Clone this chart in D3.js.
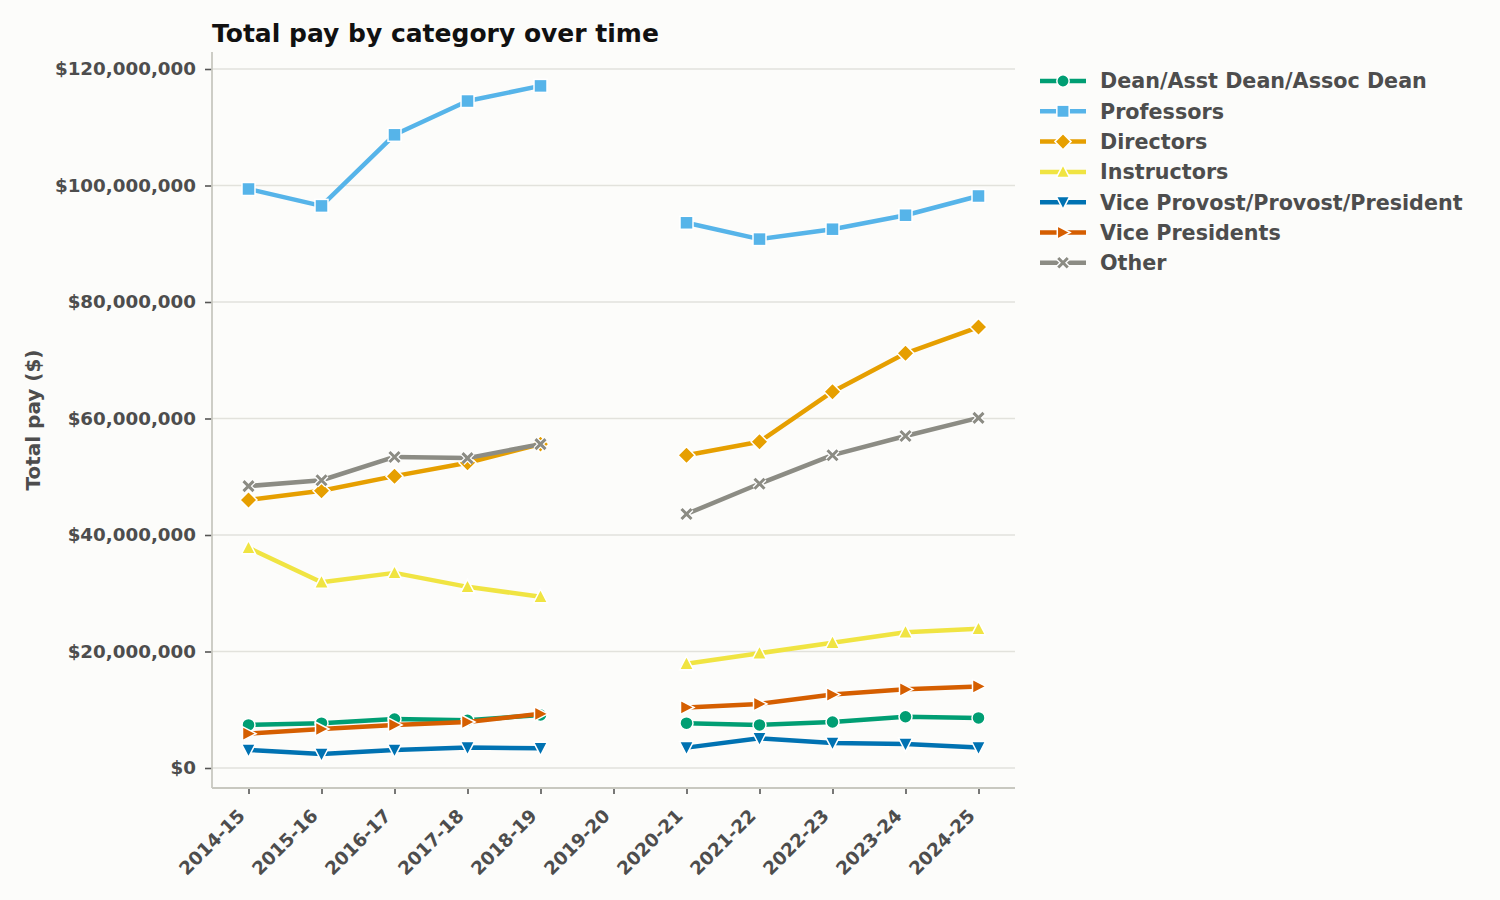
<!DOCTYPE html>
<html><head><meta charset="utf-8">
<script src="https://cdn.jsdelivr.net/npm/d3@7"></script>
<style>
html,body{margin:0;padding:0;background:#fcfcfa;}
svg{font-family:"DejaVu Sans",sans-serif;}
</style></head><body>
<svg id="c" width="1500" height="900"></svg>
<script>
const years = ["2014-15","2015-16","2016-17","2017-18","2018-19","2019-20","2020-21","2021-22","2022-23","2023-24","2024-25"];
const seriesNames = ["Dean/Asst Dean/Assoc Dean","Professors","Directors","Instructors","Vice Provost/Provost/President","Vice Presidents","Other"];
const dean = [7.4,7.7,8.4,8.2,9.1,null,7.7,7.4,7.9,8.8,8.6];
const professors = [99.4,96.5,108.7,114.5,117.1,null,93.6,90.8,92.5,94.9,98.2];
const directors = [46.0,47.6,50.1,52.4,55.6,null,53.7,56.0,64.6,71.2,75.7];
const instructors = [37.8,31.9,33.5,31.1,29.4,null,17.9,19.7,21.5,23.3,23.9];
const vpp = [3.1,2.4,3.1,3.5,3.4,null,3.5,5.1,4.3,4.1,3.5];
const vicePres = [5.9,6.7,7.4,7.9,9.3,null,10.4,11.0,12.6,13.5,14.0];
const other = [48.4,49.4,53.4,53.2,55.6,null,43.6,48.8,53.7,57.0,60.1];
const yTicks = [0,20,40,60,80,100,120];

const seriesValues = [dean,professors,directors,instructors,vpp,vicePres,other];
const colors = ["#009E73","#56B4E9","#E69F00","#F0E442","#0072B2","#D55E00","#8C8C84"];
const markers = ["circle","square","diamond","triangleUp","triangleDown","triangleRight","x"];

const svg = d3.select("#c");
const L=212, R=1015, T=52, B=788;
const x = d3.scalePoint().domain(years).range([L,R]).padding(0.5);
const y = d3.scaleLinear().domain([0,120e6]).range([768,69]);

// grid
svg.append("g").selectAll("line").data(yTicks).join("line")
  .attr("x1",L).attr("x2",R).attr("y1",d=>y(d*1e6)).attr("y2",d=>y(d*1e6))
  .attr("stroke","#e2e2dc").attr("stroke-width",1.5);

// axes
const fmt = d=>"$"+d3.format(",")(d);
const yAxis = svg.append("g").attr("transform",`translate(${L},0)`)
  .call(d3.axisLeft(y).tickValues(yTicks.map(d=>d*1e6)).tickFormat(fmt).tickSize(7).tickPadding(9));
yAxis.select(".domain").remove();
yAxis.selectAll(".tick line").attr("stroke","#555").attr("stroke-width",1.6);
yAxis.selectAll(".tick text").attr("font-size",18.3).attr("font-weight","bold").attr("fill","#4d4d4d").attr("font-family","DejaVu Sans");

const xAxis = svg.append("g").attr("transform",`translate(0,${B})`)
  .call(d3.axisBottom(x).tickSize(6));
xAxis.select(".domain").remove();
xAxis.selectAll(".tick line").attr("stroke","#555").attr("stroke-width",1.6);
xAxis.selectAll(".tick text").attr("font-size",18.3).attr("font-weight","bold").attr("fill","#4d4d4d")
  .attr("font-family","DejaVu Sans")
  .attr("x",0).attr("y",0).attr("dy",0)
  .attr("text-anchor","end")
  .attr("transform","translate(-3,29) rotate(-45)");

// spines
svg.append("line").attr("x1",L).attr("x2",L).attr("y1",T).attr("y2",B).attr("stroke","#c8c8c0").attr("stroke-width",1.8);
svg.append("line").attr("x1",L).attr("x2",R).attr("y1",B).attr("y2",B).attr("stroke","#c8c8c0").attr("stroke-width",1.8);

// marker drawing
function drawMarker(g, type, cx, cy, color, scale=1){
  const s=scale;
  if(type==="circle") g.append("circle").attr("cx",cx).attr("cy",cy).attr("r",6.5*s).attr("fill",color).attr("stroke","#fff").attr("stroke-width",1.5);
  else if(type==="square") g.append("rect").attr("x",cx-6.5*s).attr("y",cy-6.5*s).attr("width",13*s).attr("height",13*s).attr("fill",color).attr("stroke","#fff").attr("stroke-width",1.5);
  else if(type==="diamond") g.append("path").attr("d",`M${cx},${cy-8.5*s}L${cx+8.5*s},${cy}L${cx},${cy+8.5*s}L${cx-8.5*s},${cy}Z`).attr("fill",color).attr("stroke","#fff").attr("stroke-width",1.5);
  else if(type==="triangleUp") g.append("path").attr("d",`M${cx},${cy-7.5*s}L${cx+7*s},${cy+6*s}L${cx-7*s},${cy+6*s}Z`).attr("fill",color).attr("stroke","#fff").attr("stroke-width",1.5);
  else if(type==="triangleDown") g.append("path").attr("d",`M${cx},${cy+7.5*s}L${cx+7*s},${cy-6*s}L${cx-7*s},${cy-6*s}Z`).attr("fill",color).attr("stroke","#fff").attr("stroke-width",1.5);
  else if(type==="triangleRight") g.append("path").attr("d",`M${cx+7.5*s},${cy}L${cx-6*s},${cy-7*s}L${cx-6*s},${cy+7*s}Z`).attr("fill",color).attr("stroke","#fff").attr("stroke-width",1.5);
  else if(type==="x"){
    const k=5*s;
    const d=`M${cx-k},${cy-k}L${cx+k},${cy+k}M${cx-k},${cy+k}L${cx+k},${cy-k}`;
    g.append("path").attr("d",d).attr("stroke","#fff").attr("stroke-width",5.5).attr("fill","none");
    g.append("path").attr("d",d).attr("stroke",color).attr("stroke-width",3).attr("fill","none");
  }
}

const line = d3.line().defined(d=>d.v!==null).x(d=>x(d.yr)).y(d=>y(d.v*1e6));
seriesValues.forEach((vals,i)=>{
  const g = svg.append("g");
  const pts = vals.map((v,j)=>({yr:years[j],v}));
  g.append("path").datum(pts).attr("d",line).attr("fill","none").attr("stroke",colors[i])
    .attr("stroke-width",4.5).attr("stroke-linejoin","round").attr("stroke-linecap","butt");
  pts.filter(p=>p.v!==null).forEach(p=>drawMarker(g,markers[i],x(p.yr),y(p.v*1e6),colors[i]));
});

// title
svg.append("text").attr("x",L).attr("y",42).text("Total pay by category over time")
  .attr("font-size",25).attr("font-weight","bold").attr("fill","#111");
// y label
svg.append("text").attr("transform",`translate(40,420) rotate(-90)`).attr("text-anchor","middle")
  .text("Total pay ($)").attr("font-size",20).attr("font-weight","bold").attr("fill","#4d4d4d");

// legend
const lg = svg.append("g");
seriesNames.forEach((n,i)=>{
  const yy = 81 + i*30.3;
  lg.append("line").attr("x1",1040).attr("x2",1086).attr("y1",yy).attr("y2",yy).attr("stroke",colors[i]).attr("stroke-width",4.5);
  drawMarker(lg,markers[i],1063,yy,colors[i],0.95);
  lg.append("text").attr("x",1100).attr("y",yy).attr("dy","0.36em").text(n)
    .attr("font-size",20.7).attr("font-weight","bold").attr("fill","#4d4d4d");
});
</script>
</body></html>
